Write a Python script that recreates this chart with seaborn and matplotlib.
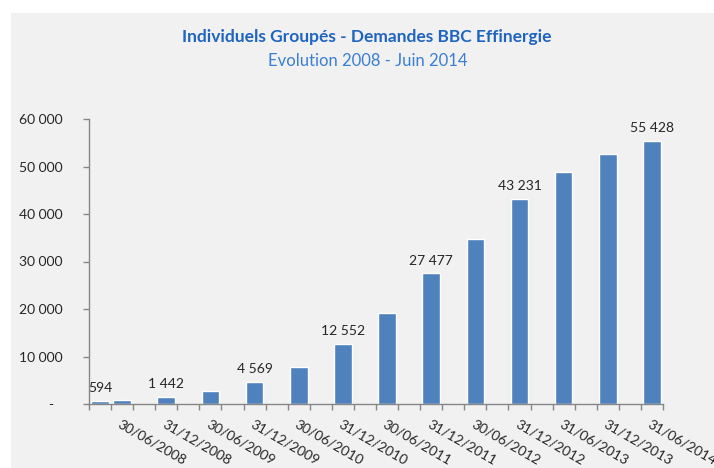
import matplotlib
matplotlib.use('Agg')
import pandas as pd
import numpy as np
import seaborn as sns
import matplotlib.pyplot as plt
from matplotlib.patches import Rectangle
from matplotlib.ticker import FixedLocator

# Data (quarterly date axis)
dates = ['31/03/2008', '30/06/2008', '31/12/2008', '30/06/2009', '31/12/2009',
         '30/06/2010', '31/12/2010', '30/06/2011', '31/12/2011', '30/06/2012',
         '31/12/2012', '30/06/2013', '31/12/2013', '30/06/2014']
values = [594, 900, 1442, 2700, 4569, 7700, 12552, 19070, 27477, 34840,
          43231, 48790, 52580, 55428]
show_label = [True, False, True, False, True, False, True, False, True, False,
              True, False, False, True]
tick_labels = ['30/06/2008', '31/12/2008', '30/06/2009', '31/12/2009', '30/06/2010',
               '31/12/2010', '30/06/2011', '31/12/2011', '30/06/2012', '31/12/2012',
               '31/06/2013', '31/12/2013', '31/06/2014']
y_ticks = [0, 10000, 20000, 30000, 40000, 50000, 60000]

df = pd.DataFrame({'date': pd.to_datetime(dates, format='%d/%m/%Y'), 'value': values})
# position on a quarterly axis
df['quarter'] = (df['date'].dt.year - 2008) * 4 + df['date'].dt.month // 3 - 1

sns.set_theme(style='white')
plt.rcParams['font.family'] = ['Lato', 'DejaVu Sans']
text_color = '#262626'
axis_color = '#868686'

fig = plt.figure(figsize=(7.14, 4.68), dpi=100, facecolor='white')
fig.patches.append(Rectangle((11 / 714, 0), 1, 1 - 13 / 468, transform=fig.transFigure,
                             facecolor='#F1F1F1', edgecolor='none', zorder=-10))
ax = fig.add_axes([89 / 714, 64 / 468, 574 / 714, 285 / 468])
ax.set_facecolor('none')
ax.set_zorder(1)

sns.barplot(data=df, x='quarter', y='value', native_scale=True, color='#4F81BD',
            saturation=1, width=0.8, ax=ax)

ax.set_xlim(-0.5, 25.5)
ax.set_ylim(0, 60000)
ax.set_xlabel('')
ax.set_ylabel('')

# value labels above some bars
labels = [f'{v:,}'.replace(',', ' ') if s else '' for v, s in zip(values, show_label)]
ax.bar_label(ax.containers[0], labels=labels, padding=5, fontsize=10, color=text_color)

# y axis
ax.set_yticks(y_ticks)
ax.set_yticklabels(['-\u2007'] + [f'{t:,}'.replace(',', ' ') for t in y_ticks[1:]],
                   fontsize=10, color=text_color)
ax.tick_params(axis='y', direction='out', length=4, width=1, color=axis_color, pad=15, left=True)

# x axis: tick marks between quarters, labels under the dated bars
ax.set_xticks(df['quarter'].iloc[1:].tolist())
ax.set_xticklabels(tick_labels, rotation=-30, ha='left', va='top',
                   rotation_mode='anchor', fontsize=10, color=text_color)
ax.xaxis.set_minor_locator(FixedLocator(np.arange(-0.5, 26, 1)))
ax.tick_params(axis='x', which='major', length=0, pad=10)
ax.tick_params(axis='x', which='minor', direction='out', length=4, width=1,
               color=axis_color, bottom=True)

sns.despine(ax=ax)
for side in ['left', 'bottom']:
    ax.spines[side].set_color(axis_color)
    ax.spines[side].set_linewidth(1)

fig.text(367 / 714, 1 - 37 / 468, 'Individuels Groupés - Demandes BBC Effinergie',
         ha='center', va='center', fontsize=12.5, fontweight='bold', color='#1F64C0')
fig.text(368 / 714, 1 - 61 / 468, 'Evolution 2008 - Juin 2014',
         ha='center', va='center', fontsize=12, color='#3A7ED4')

fig.savefig('out.png', dpi=100, facecolor=fig.get_facecolor())
